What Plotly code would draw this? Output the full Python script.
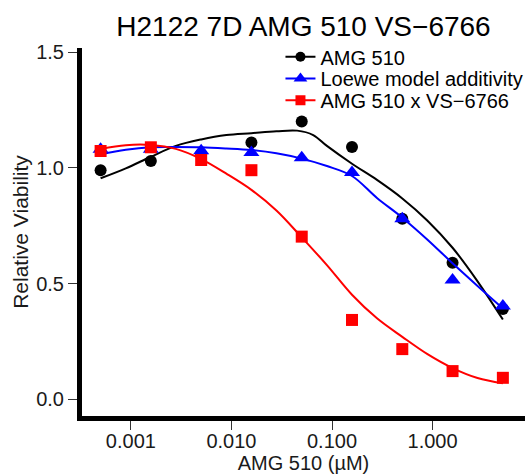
import plotly.graph_objects as go

# ---- data ----
dose = [0.0005, 0.00158, 0.005, 0.0158, 0.05, 0.158, 0.5, 1.58, 5.0]
amg510 = [0.99, 1.03, 1.06, 1.11, 1.20, 1.09, 0.78, 0.59, 0.39]
loewe = [1.08, 1.08, 1.074, 1.066, 1.044, 0.98, 0.78, 0.516, 0.403]
combo = [1.073, 1.089, 1.034, 0.99, 0.703, 0.343, 0.217, 0.122, 0.093]

# fitted curves
curve_dose_black = [0.0005, 0.00089, 0.00158, 0.0028, 0.005, 0.0089, 0.0158,
                    0.028, 0.045, 0.065, 0.089, 0.158, 0.28, 0.5, 0.89, 1.58, 2.8, 5.0]
curve_black = [0.955, 0.998, 1.048, 1.095, 1.123, 1.142, 1.150,
               1.158, 1.161, 1.142, 1.095, 1.018, 0.948, 0.868, 0.772, 0.655, 0.51, 0.345]
curve_dose = [0.0005, 0.00089, 0.00158, 0.0028, 0.005, 0.0089, 0.0158, 0.028,
              0.05, 0.089, 0.158, 0.28, 0.5, 0.89, 1.58, 2.8, 5.0]
curve_blue = [1.058, 1.078, 1.089, 1.090, 1.089, 1.084, 1.077, 1.063,
              1.040, 1.008, 0.965, 0.870, 0.785, 0.690, 0.588, 0.490, 0.393]
curve_red = [1.082, 1.098, 1.099, 1.082, 1.038, 0.975, 0.905, 0.816,
             0.700, 0.580, 0.452, 0.350, 0.270, 0.195, 0.135, 0.092, 0.069]

names = ["AMG 510", "Loewe model additivity", "AMG 510 x VS\u22126766"]
colors = ["black", "#0000FF", "#FF0000"]
symbols = ["circle", "triangle-up", "square"]
sizes = [12, 14, 12]
legend_ids = ["legend", "legend2", "legend3"]
legend_ys = [0.976, 0.917, 0.858]

x_ticks = [0.001, 0.01, 0.1, 1]
x_ticktext = ["0.001", "0.010", "0.100", "1.000"]
y_ticks = [0, 0.5, 1.0, 1.5]
y_ticktext = ["0.0", "0.5", "1.0", "1.5"]

FONT = "Liberation Sans, Arial, sans-serif"

fig = go.Figure()
series = [(curve_dose_black, curve_black, amg510),
          (curve_dose, curve_blue, loewe),
          (curve_dose, curve_red, combo)]
for i, (cx, cy, pts) in enumerate(series):
    fig.add_trace(go.Scatter(x=cx, y=cy, mode="lines", line=dict(color=colors[i], width=2, shape="spline"),
                             showlegend=False, hoverinfo="skip"))
    fig.add_trace(go.Scatter(x=dose, y=pts, mode="markers",
                             marker=dict(color=colors[i], symbol=symbols[i], size=sizes[i], line=dict(width=0)),
                             showlegend=False))
# legend entries (one legend per row for tight spacing)
legend_layout = {}
for i in range(3):
    fig.add_trace(go.Scatter(x=[None], y=[None], mode="lines+markers", name=names[i],
                             legend=legend_ids[i],
                             line=dict(color=colors[i], width=2),
                             marker=dict(color=colors[i], symbol=symbols[i], size=sizes[i] - 2)))
    legend_layout[legend_ids[i]] = dict(x=0.448, y=legend_ys[i], xanchor="left", yanchor="middle",
                                        bgcolor="rgba(0,0,0,0)", itemwidth=30,
                                        font=dict(family=FONT, size=20, color="black"))

fig.update_layout(
    width=525, height=476,
    margin=dict(l=82, r=0, t=48, b=60, autoexpand=False),
    paper_bgcolor="white", plot_bgcolor="white",
    font=dict(family=FONT, size=20, color="#1a1a1a"),
    title=dict(text="H2122 7D AMG 510 VS\u22126766", x=0.5, xref="paper",
               y=1 - 26 / 476, yref="container", yanchor="middle",
               font=dict(family=FONT, size=28, color="black")),
    xaxis=dict(type="log", range=[-3.486, 0.919], tickvals=x_ticks, ticktext=x_ticktext,
               showgrid=False, zeroline=False, showline=True, linewidth=5, linecolor="black",
               ticks="outside", ticklen=9, tickwidth=1, tickcolor="#333",
               ticklabelstandoff=-6,
               tickfont=dict(size=20, color="#1a1a1a"),
               title=dict(text="AMG 510 (\u00b5M)", standoff=4, font=dict(size=20, color="#1a1a1a"))),
    yaxis=dict(range=[-0.072, 1.518], tickvals=y_ticks, ticktext=y_ticktext,
               showgrid=False, zeroline=False, showline=True, linewidth=5, linecolor="black",
               ticks="outside", ticklen=9, tickwidth=1, tickcolor="#333",
               tickfont=dict(size=20, color="#1a1a1a"),
               title=dict(text="Relative Viability", standoff=3, font=dict(size=21, color="#1a1a1a"))),
    **legend_layout,
)

fig.write_html("out.html")
